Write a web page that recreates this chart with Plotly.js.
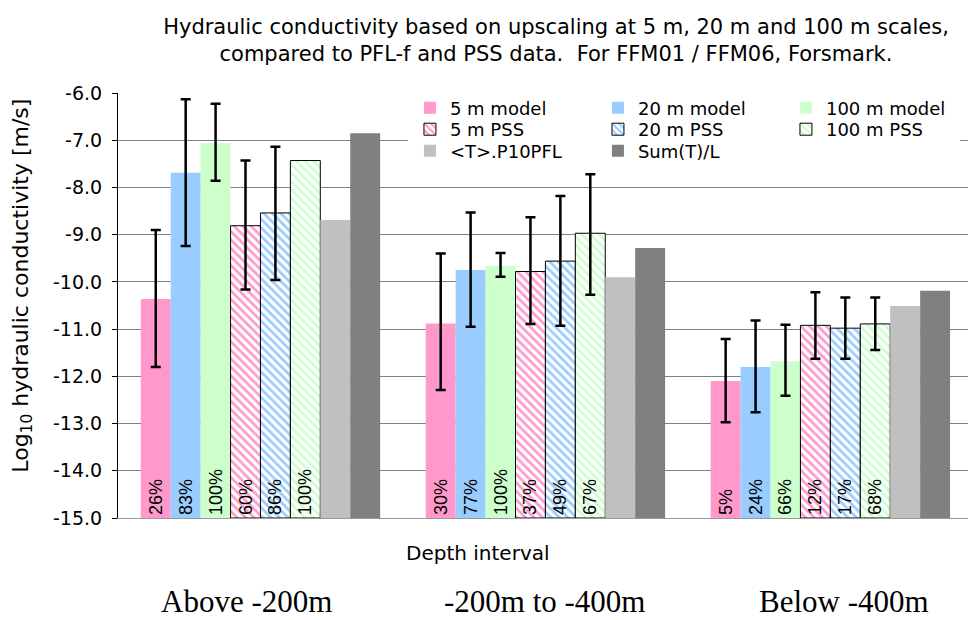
<!DOCTYPE html>
<html>
<head>
<meta charset="utf-8">
<script src="https://cdn.plot.ly/plotly-3.0.1.min.js"></script>
<style>html,body{margin:0;padding:0;background:#fff;}#chart{width:974px;height:620px;}</style>
</head>
<body>
<div id="chart"></div>
<script>
// ---- data ----
const categories = ['Above -200m', '-200m to -400m', 'Below -400m'];
const seriesNames = ['5 m model', '20 m model', '100 m model', '5 m PSS', '20 m PSS', '100 m PSS', '<T>.P10PFL', 'Sum(T)/L'];

const model5   = [-10.36, -10.88, -12.10];
const model20  = [-7.69,  -9.75,  -11.80];
const model100 = [-7.06,  -9.66,  -11.68];
const pss5     = [-8.81,  -9.78,  -10.92];
const pss20    = [-8.54,  -9.56,  -10.98];
const pss100   = [-7.43,  -8.97,  -10.89];
const p10pfl   = [-8.69,  -9.90,  -10.51];
const sumTL    = [-6.85,  -9.28,  -10.19];

// error bar ends (upper / lower)
const model5Hi   = [-8.90, -9.40, -11.21];
const model5Lo   = [-11.80, -12.29, -12.97];
const model20Hi  = [-6.13, -8.53, -10.82];
const model20Lo  = [-9.24, -10.95, -12.76];
const model100Hi = [-6.23, -9.39, -10.91];
const model100Lo = [-7.86, -9.89, -12.41];
const pss5Hi     = [-7.43, -8.63, -10.22];
const pss5Lo     = [-10.16, -10.89, -11.63];
const pss20Hi    = [-7.14, -8.18, -10.33];
const pss20Lo    = [-9.96, -10.93, -11.63];
const pss100Hi   = [null, -7.72, -10.33];
const pss100Lo   = [null, -10.27, -11.44];

// percentages printed in the bars
const model5Pct   = [26, 30, 5];
const model20Pct  = [83, 77, 24];
const model100Pct = [100, 100, 66];
const pss5Pct     = [60, 37, 12];
const pss20Pct    = [86, 49, 17];
const pss100Pct   = [100, 67, 68];

const yTickVals = [-15, -14, -13, -12, -11, -10, -9, -8, -7, -6];
const yTickText = ['-15.0', '-14.0', '-13.0', '-12.0', '-11.0', '-10.0', '-9.0', '-8.0', '-7.0', '-6.0'];

// ---- styling ----
const Y0 = -15;
const SANS = 'DejaVu Sans, sans-serif';
const PINK = '#FF99CC', BLUE = '#99CCFF', GREEN = '#CCFFCC', LGREY = '#C0C0C0', DGREY = '#808080';
const PCT_SIZE = 18;

function errs(vals, hi, lo) {
  if (!hi) return undefined;
  return {
    type: 'data', symmetric: false, visible: true,
    array: vals.map((v, i) => hi[i] == null ? NaN : hi[i] - v),
    arrayminus: vals.map((v, i) => lo[i] == null ? NaN : v - lo[i]),
    color: '#000', thickness: 2.5, width: 5
  };
}

function barTrace(name, vals, color, legendId, opts) {
  const t = {
    type: 'bar', name: name, x: categories,
    y: vals.map(v => v - Y0), base: Y0,
    legend: legendId,
    marker: { color: color, line: { width: 0 } },
    hoverinfo: 'skip'
  };
  const e = errs(vals, opts.hi, opts.lo);
  if (e) t.error_y = e;
  if (opts.pct) {
    t.text = opts.pct.map(p => p + '%');
    t.textposition = 'inside';
    t.insidetextanchor = 'start';
    t.textangle = -90;
    t.textfont = { family: 'Liberation Sans, Arial, sans-serif', size: PCT_SIZE, color: '#000' };
    t.insidetextfont = { family: 'Liberation Sans, Arial, sans-serif', size: PCT_SIZE, color: '#000' };
    t.constraintext = 'none';
  }
  if (opts.pattern) {
    t.marker = {
      color: '#FFFFFF',
      line: { width: 1, color: '#000' },
      pattern: { shape: '\\', fgcolor: color, bgcolor: '#FFFFFF', size: 6, solidity: 0.45, fillmode: 'replace' }
    };
  }
  return t;
}

const data = [
  barTrace(seriesNames[0], model5, PINK, 'legend', { hi: model5Hi, lo: model5Lo, pct: model5Pct }),
  barTrace(seriesNames[1], model20, BLUE, 'legend', { hi: model20Hi, lo: model20Lo, pct: model20Pct }),
  barTrace(seriesNames[2], model100, GREEN, 'legend', { hi: model100Hi, lo: model100Lo, pct: model100Pct }),
  barTrace(seriesNames[3], pss5, PINK, 'legend2', { hi: pss5Hi, lo: pss5Lo, pct: pss5Pct, pattern: true }),
  barTrace(seriesNames[4], pss20, BLUE, 'legend2', { hi: pss20Hi, lo: pss20Lo, pct: pss20Pct, pattern: true }),
  barTrace(seriesNames[5], pss100, GREEN, 'legend2', { hi: pss100Hi, lo: pss100Lo, pct: pss100Pct, pattern: true }),
  barTrace(seriesNames[6], p10pfl, LGREY, 'legend3', {}),
  barTrace(seriesNames[7], sumTL, DGREY, 'legend3', {})
];

// plot-area geometry in pixels (used to place labels in paper coordinates)
const PL = 118, PW = 856, PB = 518, PH = 425;
const px = x => (x - PL) / PW;
const py = y => (PB - y) / PH;

const labelShift = [-14, 0, 14];
const annotations = categories.map((c, i) => ({
  x: c, xref: 'x', y: py(601), yref: 'paper', yanchor: 'middle', xanchor: 'center',
  xshift: labelShift[i], text: c, showarrow: false,
  font: { family: 'Liberation Serif, Times New Roman, serif', size: 31, color: '#000' }
}));
annotations.push({
  x: px(481), xref: 'paper', y: py(553), yref: 'paper', xanchor: 'center', yanchor: 'middle',
  text: 'Depth interval', showarrow: false,
  font: { family: SANS, size: 20, color: '#000' }
});
annotations.push({
  x: px(21), xref: 'paper', y: py(286), yref: 'paper', xanchor: 'center', yanchor: 'middle',
  text: 'Log<sub>10</sub> hydraulic conductivity [m/s]', textangle: -90, showarrow: false,
  font: { family: SANS, size: 22, color: '#000' }
});

function legendRow(yPix) {
  return {
    orientation: 'h', x: px(412), xanchor: 'left', y: py(yPix), yanchor: 'middle',
    bgcolor: 'rgba(0,0,0,0)', borderwidth: 0, entrywidth: 143,
    font: { family: SANS, size: 18, color: '#000' }, traceorder: 'normal'
  };
}

const layout = {
  width: 974, height: 620,
  margin: { l: PL, r: 0, t: 93, b: 102 },
  paper_bgcolor: '#fff', plot_bgcolor: '#fff',
  title: {
    text: 'Hydraulic conductivity based on upscaling at 5 m, 20 m and 100 m scales,<br>compared to PFL-f and PSS data.  For FFM01 / FFM06, Forsmark.',
    font: { family: SANS, size: 21, color: '#000' },
    xref: 'container', x: 556 / 974, xanchor: 'center',
    yref: 'container', y: 1 - 34 / 620, yanchor: 'top'
  },
  barmode: 'group', bargap: 0.16, bargroupgap: 0,
  showlegend: true,
  legend: legendRow(108),
  legend2: legendRow(129.5),
  legend3: legendRow(151),
  // white backdrop behind the legend block (covers grid lines like the reference legend box)
  shapes: [{
    type: 'rect', xref: 'paper', yref: 'paper', layer: 'above',
    x0: px(410), x1: px(966), y0: py(165), y1: 1,
    fillcolor: '#fff', line: { width: 0 }
  }],
  xaxis: {
    type: 'category', range: [-0.5, 2.483], showticklabels: false,
    showline: true, linecolor: '#999', linewidth: 1, ticks: '', showgrid: false, fixedrange: true
  },
  yaxis: {
    range: [-15, -6], tickvals: yTickVals, ticktext: yTickText,
    showline: true, linecolor: '#000', linewidth: 1,
    ticks: 'outside', ticklen: 5, tickcolor: '#000', ticklabelstandoff: 6,
    showgrid: true, gridcolor: '#808080', gridwidth: 1, zeroline: false,
    tickfont: { family: SANS, size: 19, color: '#000' },
    automargin: false, fixedrange: true
  },
  annotations: annotations
};

Plotly.newPlot('chart', data, layout, { displayModeBar: false, staticPlot: true });
</script>
</body>
</html>
